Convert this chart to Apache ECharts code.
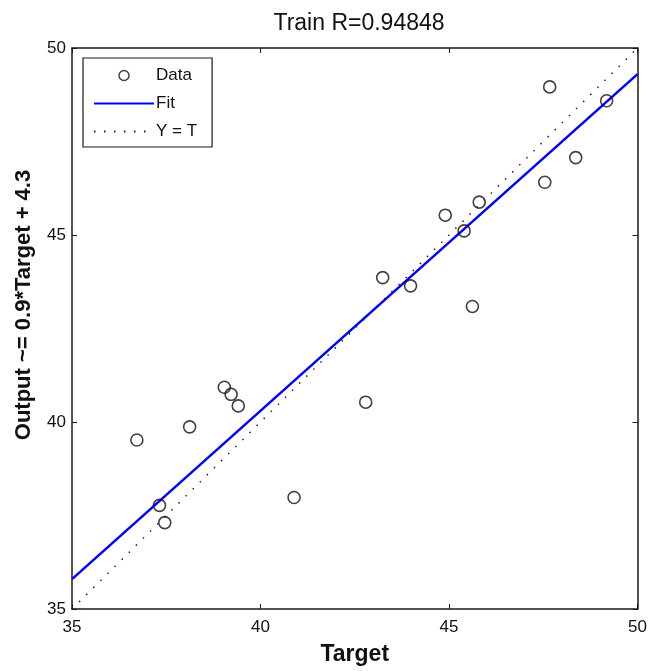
<!DOCTYPE html>
<html>
<head>
<meta charset="utf-8">
<script src="https://cdn.jsdelivr.net/npm/echarts@6/dist/echarts.min.js"></script>
<style>
  html, body { margin: 0; padding: 0; background: #ffffff; }
  #chart { width: 650px; height: 671px; }
</style>
</head>
<body>
<div id="chart"></div>
<script>
// Training-set regression: network output against target
const targetVals = [36.72, 37.32, 37.46, 38.12, 39.04, 39.22, 39.41, 40.89, 42.79, 43.24,
                    43.98, 44.90, 45.40, 45.62, 45.80, 47.54, 47.67, 48.36, 49.18];
const outputVals = [39.52, 37.77, 37.31, 39.87, 40.93, 40.74, 40.43, 37.98, 40.53, 43.86,
                    43.64, 45.53, 45.11, 43.09, 45.88, 46.41, 48.96, 47.07, 48.59];

// Linear fit as stated on the y-axis label
const fitSlope = 0.9;
const fitIntercept = 4.3;

const axisRange = [35, 50];
const tickStep = 5;

const titleText = 'Train R=0.94848';
const xName = 'Target';
const yName = 'Output ~= ' + fitSlope + '*Target + ' + fitIntercept;

const points = targetVals.map((t, i) => [t, outputVals[i]]);
const fitLine = axisRange.map(t => [t, fitSlope * t + fitIntercept]);
const identityLine = axisRange.map(t => [t, t]);

const FONT = '"Liberation Sans", Arial, sans-serif';
const INK = '#111111';

const boxAxis = {
  min: axisRange[0],
  max: axisRange[1],
  interval: tickStep,
  splitLine: { show: false },
  axisLine: { show: true, onZero: false, lineStyle: { color: '#1a1a1a', width: 1.5 } },
  axisTick: { show: true, inside: true, length: 5, lineStyle: { color: '#1a1a1a', width: 1 } }
};

const chart = echarts.init(document.getElementById('chart'), null, { renderer: 'canvas' });

chart.setOption({
  animation: false,
  backgroundColor: '#ffffff',
  title: {
    text: titleText,
    left: 354,
    top: 7,
    textAlign: 'center',
    textStyle: { fontFamily: FONT, fontSize: 23, fontWeight: 'normal', color: INK }
  },
  grid: { left: 72, right: 10, top: 48, bottom: 59, containLabel: false },
  xAxis: [
    Object.assign({}, boxAxis, {
      type: 'value',
      position: 'bottom',
      name: xName,
      nameLocation: 'middle',
      nameGap: 34,
      nameTextStyle: { fontFamily: FONT, fontSize: 23, fontWeight: 'bold', color: INK },
      axisLabel: { margin: 10, fontFamily: FONT, fontSize: 17, color: INK }
    }),
    Object.assign({}, boxAxis, {
      type: 'value',
      position: 'top',
      axisLabel: { show: false }
    })
  ],
  yAxis: [
    Object.assign({}, boxAxis, {
      type: 'value',
      position: 'left',
      axisLabel: { margin: 6, fontFamily: FONT, fontSize: 17, color: INK }
    }),
    Object.assign({}, boxAxis, {
      type: 'value',
      position: 'right',
      axisLabel: { show: false }
    })
  ],
  graphic: [{
    type: 'text',
    x: 24,
    y: 305,
    rotation: Math.PI / 2,
    style: {
      text: yName,
      fontFamily: FONT,
      fontSize: 22,
      fontWeight: 'bold',
      fill: INK,
      align: 'center',
      verticalAlign: 'middle'
    }
  }],
  legend: {
    orient: 'vertical',
    left: 83,
    top: 58,
    padding: [9, 15, 7, 10],
    itemWidth: 60,
    itemHeight: 10,
    itemGap: 11,
    backgroundColor: '#ffffff',
    borderColor: '#1a1a1a',
    borderWidth: 1.2,
    textStyle: { fontFamily: FONT, fontSize: 17, color: INK, padding: [0, 0, 0, -3] },
    data: [
      { name: 'Data', icon: 'circle', itemStyle: { color: 'transparent', borderColor: '#111', borderWidth: 1.5 } },
      { name: 'Fit', itemStyle: { opacity: 0 } },
      { name: 'Y = T', itemStyle: { opacity: 0 } }
    ]
  },
  series: [
    {
      name: 'Y = T',
      type: 'line',
      data: identityLine,
      symbol: 'none',
      silent: true,
      z: 2,
      itemStyle: { color: '#222222', opacity: 0 },
      lineStyle: { color: '#222222', width: 1.5, opacity: 1, type: [1.5, 8.5] }
    },
    {
      name: 'Fit',
      type: 'line',
      data: fitLine,
      symbol: 'none',
      silent: true,
      z: 3,
      itemStyle: { color: '#0000ff', opacity: 0 },
      lineStyle: { color: '#0000ff', width: 2.5, opacity: 1 }
    },
    {
      name: 'Data',
      type: 'scatter',
      data: points,
      symbol: 'circle',
      symbolSize: 12,
      z: 4,
      itemStyle: { color: 'transparent', borderColor: '#111111', borderWidth: 1.6 }
    }
  ]
});
</script>
</body>
</html>
